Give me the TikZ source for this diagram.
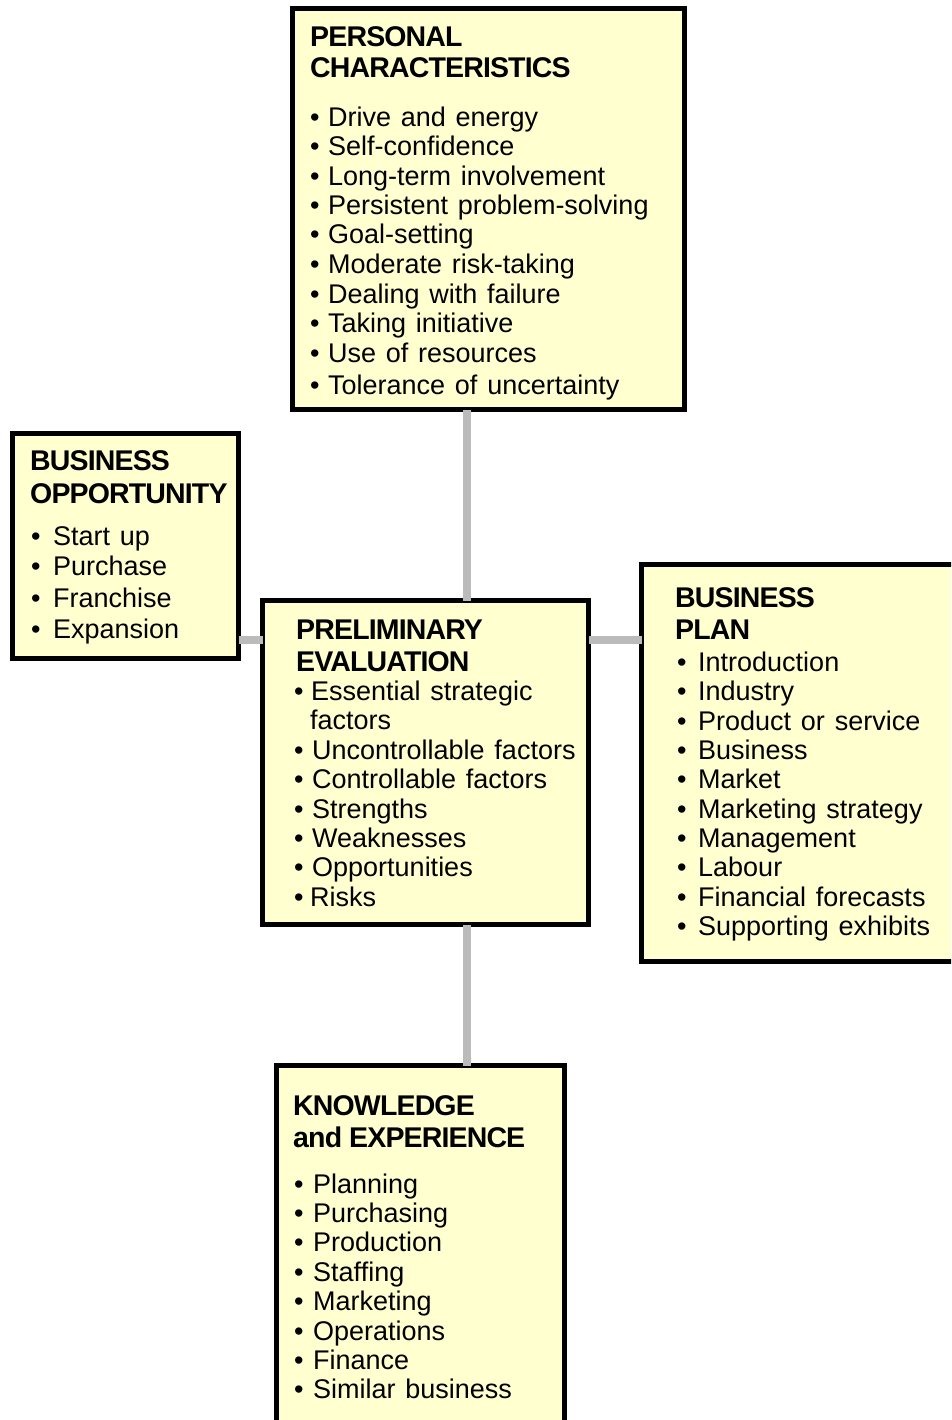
\documentclass[tikz,border=0pt]{standalone}
\usepackage{fontspec}
\setmainfont{Liberation Sans}
\newfontfamily\headfont{Liberation Sans}[LetterSpace=-3]
\newfontfamily\itemfont{Liberation Sans}[WordSpace=1.3]
\definecolor{boxfill}{RGB}{255,255,208}
\definecolor{linkgray}{RGB}{187,187,187}

% #1 name prefix, #2 x of bullet, #3 bullet box width, #4 list of baseline/text pairs
\newcommand\bulletlist[4]{%
  \foreach \y/\t [count=\i] in {#4} {%
    \node[item] (#1-\i) at (#2,\y) {\makebox[#3][l]{•}\t};
  }%
}
% #1 name prefix, #2 x, #3 list of baseline/text pairs
\newcommand\headlines[3]{%
  \foreach \y/\t [count=\i] in {#3} {%
    \node[head] (#1-h\i) at (#2,\y) {\t};
  }%
}

\begin{document}
\begin{tikzpicture}[x=1pt,y=-1pt,
  panel/.style={draw=black, line width=5pt, fill=boxfill, rectangle,
                inner sep=0pt, outer sep=0pt},
  link/.style={draw=linkgray, line width=8pt},
  head/.style={anchor=base west, inner sep=0pt,
               font=\headfont\fontsize{28.5}{30}\selectfont\bfseries},
  item/.style={anchor=base west, inner sep=0pt,
               font=\itemfont\fontsize{27}{30}\selectfont}]

\clip (0,0) rectangle (951,1420);
\fill[white] (0,0) rectangle (951,1420);

% positions of the grey links
\coordinate (spine) at (467,0);
\coordinate (row) at (0,640);

% boxes
\node[panel, minimum width=392pt, minimum height=401pt] (pc) at (488,209) {};
\node[panel, minimum width=226pt, minimum height=225pt] (bo) at (125.5,546) {};
\node[panel, minimum width=326pt, minimum height=324pt] (pe) at (425.5,762.5) {};
\node[panel, minimum width=320pt, minimum height=397pt] (bp) at (801.5,763) {};
\node[panel, minimum width=288pt, minimum height=370pt] (ke) at (420.5,1250.5) {};

% links between the boxes
\draw[link] (spine |- pc.south) -- (spine |- pe.north);
\draw[link] (spine |- pe.south) -- (spine |- ke.north);
\draw[link] (bo.east |- row) -- (pe.west |- row);
\draw[link] (pe.east |- row) -- (bp.west |- row);

% personal characteristics
\headlines{pc}{310}{47/PERSONAL, 78/CHARACTERISTICS}
\bulletlist{pc}{310}{18pt}{127/Drive and energy, 156/Self-confidence,
  186/Long-term involvement, 215/Persistent problem-solving,
  244/Goal-setting, 274/Moderate risk-taking, 303/Dealing with failure,
  332/Taking initiative, 362/Use of resources, 394/Tolerance of uncertainty}

% business opportunity
\headlines{bo}{30}{470/BUSINESS, 503/OPPORTUNITY}
\bulletlist{bo}{31}{22pt}{545/Start up, 575/Purchase, 607/Franchise, 638/Expansion}

% preliminary evaluation
\headlines{pe}{296}{639/PRELIMINARY, 671/EVALUATION}
\bulletlist{pe}{294}{17pt}{700/Essential strategic}
\node[item] (pe-cont) at (310,729) {factors};
\bulletlist{pe}{294}{18pt}{759/Uncontrollable factors, 788/Controllable factors,
  818/Strengths, 847/Weaknesses, 876/Opportunities}
\node[item] (pe-risks) at (294,906) {\makebox[16pt][l]{•}Risks};

% business plan
\headlines{bp}{675}{607/BUSINESS, 639/PLAN}
\bulletlist{bp}{677}{21pt}{671/Introduction, 700/Industry, 730/Product or service,
  759/Business, 788/Market, 818/Marketing strategy, 847/Management,
  876/Labour, 906/Financial forecasts, 935/Supporting exhibits}

% knowledge and experience
\headlines{ke}{293}{1115/KNOWLEDGE, 1147/and EXPERIENCE}
\bulletlist{ke}{294}{19pt}{1193/Planning, 1222/Purchasing, 1251/Production,
  1281/Staffing, 1310/Marketing, 1340/Operations, 1369/Finance,
  1398/Similar business}

\end{tikzpicture}
\end{document}
